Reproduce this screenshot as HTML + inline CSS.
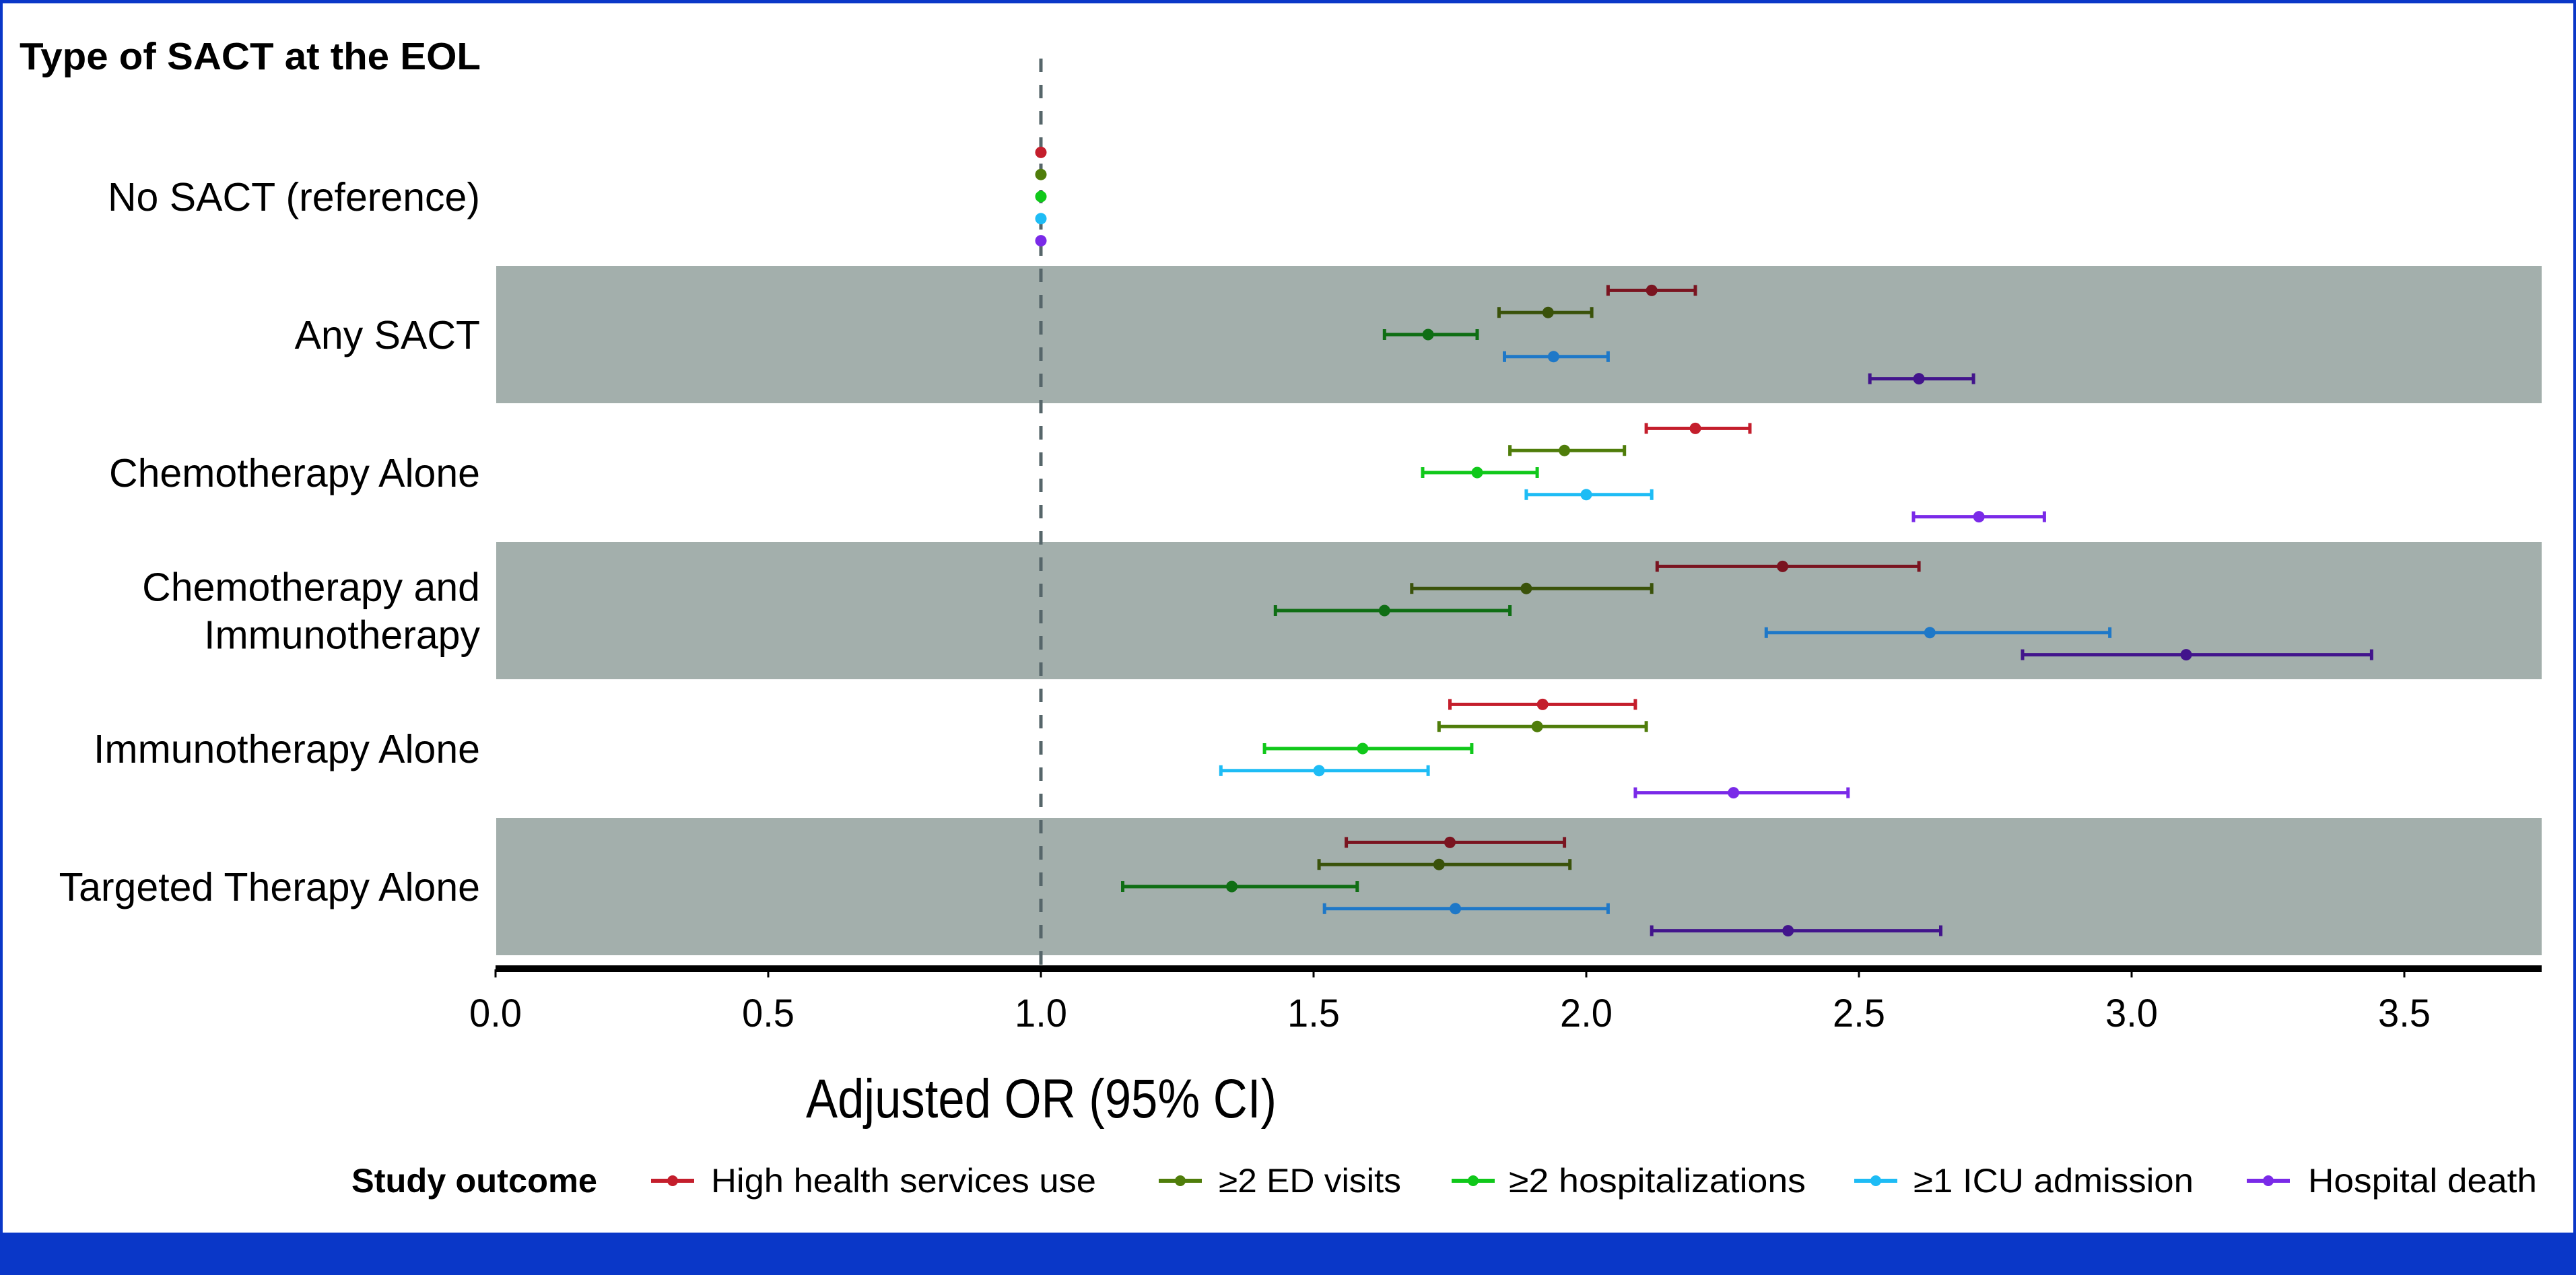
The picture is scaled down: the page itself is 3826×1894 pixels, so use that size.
<!DOCTYPE html>
<html><head><meta charset="utf-8"><style>
html,body{margin:0;padding:0;background:#fff}
svg{display:block}
text{font-family:"Liberation Sans",sans-serif;fill:#000}
</style></head><body>
<svg id="chart" width="3826" height="1894" viewBox="0 0 3826 1894" xmlns="http://www.w3.org/2000/svg">
<rect x="0" y="0" width="3826" height="1894" fill="#fff"/>
<rect x="0" y="0" width="3826" height="5" fill="#0a37c8"/>
<rect x="0" y="0" width="4" height="1894" fill="#0a37c8"/>
<rect x="3822" y="0" width="4" height="1894" fill="#0a37c8"/>
<rect x="0" y="1831" width="3826" height="63" fill="#0a37c8"/>
<text x="29" y="103" font-size="57" font-weight="bold" textLength="685" lengthAdjust="spacingAndGlyphs">Type of SACT at the EOL</text>
<g id="bands"></g>
<g id="ylabels"></g>
<g id="refline"></g>
<g id="marks"></g>
<g id="axis"></g>
<text x="1197" y="1660" font-size="82" textLength="699" lengthAdjust="spacingAndGlyphs">Adjusted OR (95% CI)</text>
<g id="legend"></g>
</svg>
<script>
const categories = ["No SACT (reference)","Any SACT","Chemotherapy Alone","Chemotherapy and Immunotherapy","Immunotherapy Alone","Targeted Therapy Alone"];
const seriesNames = ["High health services use","≥2 ED visits","≥2 hospitalizations","≥1 ICU admission","Hospital death"];
const highUse   = [[1,1,1],[2.12,2.04,2.20],[2.20,2.11,2.30],[2.36,2.13,2.61],[1.92,1.75,2.09],[1.75,1.56,1.96]];
const edVisits  = [[1,1,1],[1.93,1.84,2.01],[1.96,1.86,2.07],[1.89,1.68,2.12],[1.91,1.73,2.11],[1.73,1.51,1.97]];
const hospitalizations = [[1,1,1],[1.71,1.63,1.80],[1.80,1.70,1.91],[1.63,1.43,1.86],[1.59,1.41,1.79],[1.35,1.15,1.58]];
const icu       = [[1,1,1],[1.94,1.85,2.04],[2.00,1.89,2.12],[2.63,2.33,2.96],[1.51,1.33,1.71],[1.76,1.52,2.04]];
const death     = [[1,1,1],[2.61,2.52,2.71],[2.72,2.60,2.84],[3.10,2.80,3.44],[2.27,2.09,2.48],[2.37,2.12,2.65]];
const xTicks = [0,0.5,1.0,1.5,2.0,2.5,3.0,3.5];
const xTickLabels = ["0.0","0.5","1.0","1.5","2.0","2.5","3.0","3.5"];

const series=[highUse,edVisits,hospitalizations,icu,death];
const lightColors=["#c41e2c","#4f7d0a","#10c81a","#1ebcf5","#7a2ae8"];
const darkColors=["#7a1420","#3a520a","#0f6e14","#1e78c8","#42148c"];
const NS="http://www.w3.org/2000/svg";
const X0=736, PX=810, XMAX=3775;
const x=v=>X0+v*PX;
const rowY=i=>292+205*i;
const dy=j=>(j-2)*32.8;
function el(tag,attrs,parent){const e=document.createElementNS(NS,tag);for(const k in attrs)e.setAttribute(k,attrs[k]);parent.appendChild(e);return e;}
const g=id=>document.getElementById(id);

categories.forEach((c,i)=>{
  if(i%2===1){
    const b=el('rect',{x:737,y:rowY(i)-102,width:XMAX-737,height:204,fill:'#a3afac'},g('bands'));
    
    
  }
  const parts=c==="Chemotherapy and Immunotherapy"?["Chemotherapy and","Immunotherapy"]:[c];
  parts.forEach((p,k)=>{
    const t=el('text',{x:713,y:rowY(i)+21+(parts.length>1?(k-0.5)*71:0),'font-size':59,'text-anchor':'end'},g('ylabels'));
    t.textContent=p;
    
    
  });
});

series.forEach((s,j)=>{
  s.forEach((d,i)=>{
    const col=(i%2===1?darkColors:lightColors)[j];
    const y=rowY(i)+dy(j);
    const grp=el('g',{},g('marks'));
    
    
    if(d[2]>d[1]){
      el('line',{x1:x(d[1]),x2:x(d[2]),y1:y,y2:y,stroke:col,'stroke-width':5},grp);
      el('line',{x1:x(d[1]),x2:x(d[1]),y1:y-8,y2:y+8,stroke:col,'stroke-width':5},grp);
      el('line',{x1:x(d[2]),x2:x(d[2]),y1:y-8,y2:y+8,stroke:col,'stroke-width':5},grp);
    }
    el('circle',{cx:x(d[0]),cy:y,r:8.5,fill:col},grp);
  });
});

const rl=el('line',{x1:x(1),x2:x(1),y1:87,y2:1434,stroke:'#56666a','stroke-width':5,'stroke-dasharray':'20 19'},g('refline'));



const ax=el('rect',{x:X0,y:1434,width:XMAX-X0,height:10,fill:'#000'},g('axis'));


xTicks.forEach((v,k)=>{
  const tk=el('line',{x1:x(v),x2:x(v),y1:1440,y2:1452,stroke:'#000','stroke-width':3},g('axis'));
  
  
  const t=el('text',{x:x(v)-39,y:1525,'font-size':58,textLength:78,lengthAdjust:'spacingAndGlyphs'},g('axis'));
  t.textContent=xTickLabels[k];
  
  
});

const lt=el('text',{x:522,y:1771,'font-size':50,'font-weight':'bold',textLength:365,lengthAdjust:'spacingAndGlyphs'},g('legend'));
lt.textContent='Study outcome';


const legMarkX=[967,1721,2156,2754,3337];
const legTextX=[1056,1810,2241,2842,3428];
const legTextW=[572,271,441,416,340];
seriesNames.forEach((n,j)=>{
  const gg=el('g',{},g('legend'));
  
  
  el('line',{x1:legMarkX[j],x2:legMarkX[j]+64,y1:1754,y2:1754,stroke:lightColors[j],'stroke-width':6},gg);
  el('circle',{cx:legMarkX[j]+32,cy:1754,r:8,fill:lightColors[j]},gg);
  const t=el('text',{x:legTextX[j],y:1771,'font-size':50,textLength:legTextW[j],lengthAdjust:'spacingAndGlyphs'},gg);
  t.textContent=n;
});
</script>
</body></html>
